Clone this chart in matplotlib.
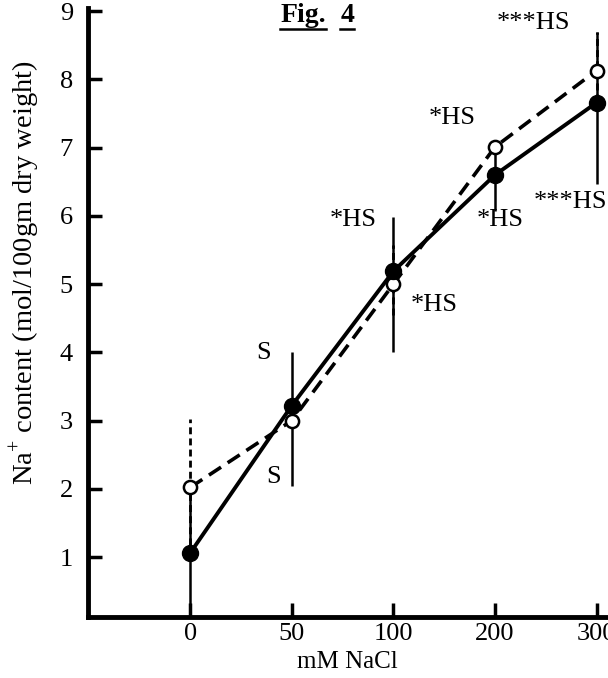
import matplotlib
matplotlib.use("Agg")
import matplotlib.pyplot as plt
import numpy as np

plt.rcParams["font.family"] = ["Liberation Serif", "DejaVu Serif"]
plt.rcParams["mathtext.fontset"] = "custom"
plt.rcParams["mathtext.rm"] = "Liberation Serif"

# NaCl treatment levels (categorical axis)
conc_labels = ["0", "50", "100", "200", "300"]

# filled circles, solid line
filled_mean = [1.06, 3.22, 5.19, 6.60, 7.66]
filled_err_lo = [0.95, 1.18, 1.19, 0.53, 1.20]
filled_err_hi = [0.95, 0.78, 0.80, 0.40, 1.04]

# open circles, dashed line
open_mean = [2.02, 3.00, 5.00, 7.01, 8.13]
open_err_lo = [1.00, 0.00, 0.45, 0.00, 0.45]
open_err_hi = [1.00, 0.00, 0.57, 0.00, 0.57]

# significance labels: (text, x index, y value, alignment)
sig_labels = [
    ("S", 0.72, 3.99, "center"),
    ("S", 0.82, 2.17, "center"),
    ("*HS", 1.60, 5.94, "center"),
    ("*HS", 2.40, 4.69, "center"),
    ("*HS", 2.58, 7.43, "center"),
    ("*HS", 3.05, 5.94, "center"),
    ("***HS", 3.38, 8.82, "center"),
    ("***HS", 3.38, 6.20, "left"),
]

x = np.arange(len(conc_labels))

fig = plt.figure(figsize=(6.08, 6.78), dpi=100)
ax = fig.add_axes([0.145, 0.090, 0.853, 0.898])

# error bars
ax.errorbar(x, filled_mean, yerr=[filled_err_lo, filled_err_hi], fmt="none",
            ecolor="black", elinewidth=1.8, capsize=0, zorder=2)
eb = ax.errorbar(x, open_mean, yerr=[open_err_lo, open_err_hi], fmt="none",
                 ecolor="black", elinewidth=2.0, capsize=0, zorder=2)
for lc in eb[2]:
    lc.set_linestyle((0, (2.5, 1.5)))

# lines and markers
ax.plot(x, open_mean, color="black", lw=2.6, ls=(0, (4, 2.2)), zorder=3)
ax.plot(x, filled_mean, color="black", lw=2.8, zorder=4)
ax.plot(x, open_mean, ls="none", marker="o", ms=9.5, mfc="white",
        mec="black", mew=1.8, zorder=5)
ax.plot(x, filled_mean, ls="none", marker="o", ms=11.5, mfc="black",
        mec="black", zorder=6)

for txt, tx, ty, ha in sig_labels:
    ax.text(tx, ty, txt, fontsize=19, ha=ha, va="center", clip_on=False)

# "Fig. 4" with each word underlined
fig_word = ax.text(0.887, 8.93, "Fig.", fontsize=20, fontweight="bold",
                   ha="left", va="center")
fig_num = ax.text(1.478, 8.93, "4", fontsize=20, fontweight="bold",
                  ha="left", va="center")

ax.set_xlim(-1.005, 4.10)
ax.set_ylim(0.121, 9.044)
ax.set_xticks(x)
ax.set_xticklabels(conc_labels)
ax.set_yticks(np.arange(1, 10))

ax.spines["top"].set_visible(False)
ax.spines["right"].set_visible(False)
ax.spines["left"].set_linewidth(3.5)
ax.spines["bottom"].set_linewidth(3.5)
ax.tick_params(axis="both", direction="in", length=10, width=2.5,
               labelsize=19, colors="black")
ax.tick_params(axis="y", pad=11)
ax.tick_params(axis="x", pad=4)

ax.set_xlabel("mM NaCl", fontsize=18, labelpad=5)
ax.set_ylabel("Na$^{+}$ content (mol/100gm dry weight)", fontsize=20.5)
ax.yaxis.set_label_coords(-0.087, 0.565)

fig.canvas.draw()
inv = fig.transFigure.inverted()
for t in (fig_word, fig_num):
    bb = t.get_window_extent().transformed(inv)
    yl = bb.y0 - 0.001
    fig.add_artist(plt.Line2D([bb.x0, bb.x1], [yl, yl], color="black",
                              lw=1.8, transform=fig.transFigure))

fig.savefig("out.png", dpi=100)
